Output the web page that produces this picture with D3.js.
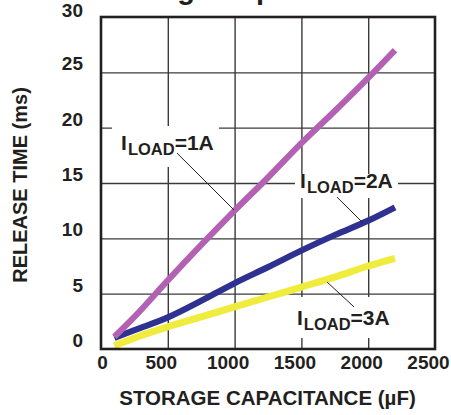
<!DOCTYPE html>
<html>
<head>
<meta charset="utf-8">
<script src="https://cdn.jsdelivr.net/npm/d3@7"></script>
<style>
  html, body { margin: 0; padding: 0; background: #fff; }
  svg { display: block; }
  text { font-family: "Liberation Sans", Arial, Helvetica, sans-serif; fill: #231f20; }
</style>
</head>
<body>
<svg id="chart" width="451" height="415"></svg>
<script>
// ---- data ----
const capacitance = [100, 250, 500, 750, 1000, 1250, 1500, 1750, 2000, 2200];   // µF
const release1A   = [1.1, 2.9, 6.2, 9.4, 12.5, 15.5, 18.6, 21.5, 24.5, 27.0];   // ms
const release2A   = [1.0, 1.7, 2.85, 4.35, 5.95, 7.4, 8.9, 10.3, 11.6, 12.8];
const release3A   = [0.3, 1.0, 2.0, 2.9, 3.8, 4.7, 5.6, 6.5, 7.5, 8.2];
const seriesNames = ["1A", "2A", "3A"];
const xTicks = [0, 500, 1000, 1500, 2000, 2500];
const yTicks = [0, 5, 10, 15, 20, 25, 30];
const xTitle = "STORAGE CAPACITANCE (µF)";
const yTitle = "RELEASE TIME (ms)";
const chartTitle = "Storage Capacitance";
// annotation anchors in data units: [textX, textBaselineY, leaderX1, leaderY1, leaderX2, leaderY2, boxX0, boxX1, boxYTop, boxYBottom]
const annot1A = [150, 17.98, 569, 17.7, 996, 12.56, 82, 883, 20.15, 16.45];
const annot2A = [1490, 14.55, 1766, 13.73, 1961, 11.39, 1452, 2223, 15.81, 13.64];
const annot3A = [1467, 2.17, 1692, 6.05, 1894, 3.8, 1445, 2223, 4.7, 1.0];

// ---- layout ----
const svg = d3.select("#chart");
const L = 101, R = 435, T = 17, B = 349;
const x = d3.scaleLinear().domain([0, 2500]).range([L, R]);
const y = d3.scaleLinear().domain([0, 30]).range([B, T]);
const colors = { "1A": "#b261b3", "2A": "#2e3190", "3A": "#efec3e" };

// title (cropped at the top in the reference)
svg.append("text")
  .attr("x", 103).attr("y", -1)
  .attr("font-size", 29).attr("font-weight", "bold")
  .text(chartTitle);

// gridlines
const gx = svg.append("g").attr("transform", `translate(0,${B})`)
  .call(d3.axisBottom(x).tickValues(xTicks.slice(1, -1)).tickSize(-(B - T)).tickFormat(""));
gx.select(".domain").remove();
gx.selectAll("line").attr("stroke", "#3a3a3a").attr("stroke-width", 1.4);
const gy = svg.append("g").attr("transform", `translate(${L},0)`)
  .call(d3.axisLeft(y).tickValues(yTicks.slice(1, -1)).tickSize(-(R - L)).tickFormat(""));
gy.select(".domain").remove();
gy.selectAll("line").attr("stroke", "#3a3a3a").attr("stroke-width", 1.4);

// white label boxes (interrupt gridlines)
[annot1A, annot2A, annot3A].forEach(a => {
  svg.append("rect")
    .attr("x", x(a[6])).attr("width", x(a[7]) - x(a[6]))
    .attr("y", y(a[8])).attr("height", y(a[9]) - y(a[8]))
    .attr("fill", "#fff");
});

// data lines
const data = {
  "1A": capacitance.map((c, i) => [c, release1A[i]]),
  "2A": capacitance.map((c, i) => [c, release2A[i]]),
  "3A": capacitance.map((c, i) => [c, release3A[i]])
};
const line = d3.line().x(d => x(d[0])).y(d => y(d[1])).curve(d3.curveMonotoneX);
["3A", "2A", "1A"].forEach(k => {
  svg.append("path").datum(data[k])
    .attr("d", line)
    .attr("fill", "none")
    .attr("stroke", colors[k])
    .attr("stroke-width", k === "3A" ? 7 : 6.2)
    .attr("stroke-linejoin", "round");
});

// annotations
[annot1A, annot2A, annot3A].forEach((a, i) => {
  svg.append("line")
    .attr("x1", x(a[2])).attr("y1", y(a[3]))
    .attr("x2", x(a[4])).attr("y2", y(a[5]))
    .attr("stroke", "#231f20").attr("stroke-width", 1);
  const t = svg.append("text")
    .attr("x", x(a[0])).attr("y", y(a[1]))
    .attr("font-size", 21).attr("font-weight", "bold");
  t.append("tspan").text("I");
  t.append("tspan").attr("dy", 5).attr("dx", 1).attr("font-size", 16.5).text("LOAD");
  t.append("tspan").attr("dy", -5).text("=" + seriesNames[i]);
});

// plot border
svg.append("rect")
  .attr("x", L).attr("y", T).attr("width", R - L).attr("height", B - T)
  .attr("fill", "none").attr("stroke", "#231f20").attr("stroke-width", 2.6);

// x tick labels
const ax = svg.append("g").attr("transform", `translate(0,${B})`)
  .call(d3.axisBottom(x).tickValues(xTicks).tickSize(0).tickPadding(0).tickFormat(d3.format("d")));
ax.select(".domain").remove();
ax.selectAll("text")
  .attr("font-size", 19).attr("font-weight", "bold")
  .attr("fill", "#231f20")
  .attr("font-family", null)
  .attr("y", 20).attr("dy", 0)
  .attr("dx", d => d === 0 ? 1 : -7);

// y tick labels
const ay = svg.append("g").attr("transform", `translate(${L},0)`)
  .call(d3.axisLeft(y).tickValues(yTicks).tickSize(0).tickPadding(0).tickFormat(d3.format("d")));
ay.select(".domain").remove();
ay.selectAll("text")
  .attr("font-size", 19).attr("font-weight", "bold")
  .attr("fill", "#231f20")
  .attr("font-family", null)
  .attr("x", -18).attr("dy", d => d === 30 ? -1 : -2.5);

// axis titles
svg.append("text")
  .attr("x", (117 + 418) / 2).attr("y", 405)
  .attr("text-anchor", "middle")
  .attr("font-size", 20.5).attr("font-weight", "bold")
  .text(xTitle);
svg.append("text")
  .attr("transform", `translate(27,${185}) rotate(-90)`)
  .attr("text-anchor", "middle")
  .attr("font-size", 20).attr("font-weight", "bold")
  .text(yTitle);
</script>
</body>
</html>
